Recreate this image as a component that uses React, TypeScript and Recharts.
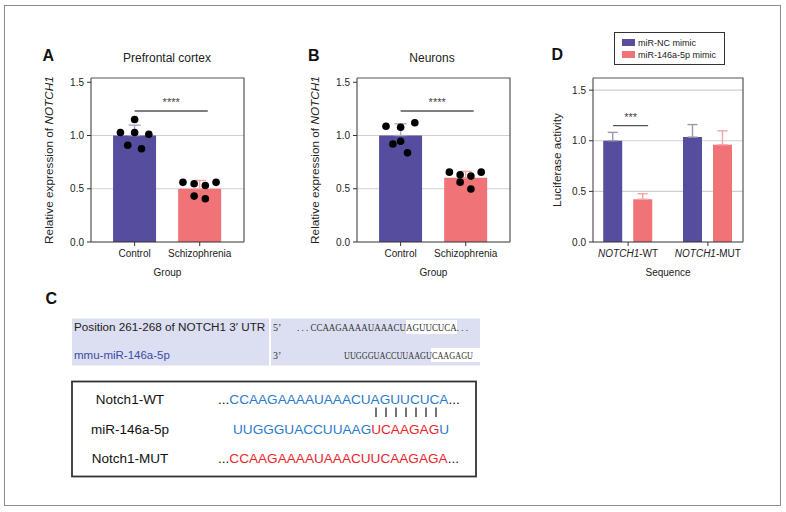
import React from "react";
import {
  ComposedChart,
  Bar,
  ErrorBar,
  Scatter,
  XAxis,
  YAxis,
  CartesianGrid,
  ReferenceLine,
  Legend,
} from "recharts";

const groups = ["Control", "Schizophrenia"];

// A: prefrontal cortex
const pfcMean = [1.0, 0.5];
const pfcSd = [0.097, 0.078];
const pfcDots = [
  [1.15, 1.028, 1.028, 1.012, 0.909, 0.875],
  [0.56, 0.547, 0.531, 0.56, 0.431, 0.406],
];
// horizontal spread of the dots, as a share of the bar width
const pfcJitter = [
  [0, -0.33, 0, 0.33, -0.16, 0.16],
  [-0.39, -0.13, 0.13, 0.38, -0.13, 0.13],
];

// B: neurons
const neuMean = [1.0, 0.603];
const neuSd = [0.11, 0.06];
const neuDots = [
  [1.087, 1.078, 1.12, 0.92, 0.946, 0.837],
  [0.656, 0.631, 0.619, 0.656, 0.562, 0.497],
];
const neuJitter = [
  [-0.34, 0, 0.33, -0.18, 0, 0.16],
  [-0.38, -0.13, 0.12, 0.36, -0.13, 0.12],
];

const exprTicks = [0, 0.5, 1, 1.5];
const exprGrid = [0.5, 1];
const exprMax = 1.54;
const exprX = [-0.67, 1.68];
const exprSigY = 1.23;

// D: luciferase
const sequences = ["NOTCH1-WT", "NOTCH1-MUT"];
const seriesNames = ["miR-NC mimic", "miR-146a-5p mimic"];
const ncMean = [1.0, 1.036];
const ncSd = [0.083, 0.124];
const mimicMean = [0.422, 0.96];
const mimicSd = [0.055, 0.138];
const lucTicks = [0, 0.5, 1, 1.5];
const lucGrid = [0.5, 1, 1.5];
const lucMax = 1.62;
const lucX = [-0.44, 1.44];
const lucSigY = 1.15;

const FONT = '"Liberation Sans", Arial, Helvetica, sans-serif';
const SERIF = '"Liberation Serif", "Times New Roman", serif';
const PURPLE = "#564d9e";
const PINK = "#f07377";
const AXIS = "#333";
const FRAME = "#555";
const GRID = "#d0d0d0";
const BAR_AB = 43;
const BAR_D = 19;
const GAP_D = 11;

// chart box layout
const CW = 260;
const CH = 290;
const M_TOP = 78;
const M_BOTTOM = 8;
const M_LEFT = 51;
const Y_W = 40;
const X_H = 40;
const LEFT_A = 0;
const LEFT_B = 266;
const LEFT_D = 502;
const RIGHT_AB = 16;
const RIGHT_D = 19;

const yTitle = (main: string, italic: string, dx: number) => (props: any) => {
  const { x, y, height } = props.viewBox;
  return (
    <text
      transform={`translate(${x + dx},${y + height / 2}) rotate(-90)`}
      textAnchor="middle"
      dominantBaseline="central"
      fontSize={11.8}
      fill="#222"
    >
      {main}
      {italic && <tspan fontStyle="italic">{italic}</tspan>}
    </text>
  );
};

const xTitle = (text: string) => (props: any) => {
  const { x, y, width } = props.viewBox;
  return (
    <text
      x={x + width / 2}
      y={y + 30}
      textAnchor="middle"
      dominantBaseline="central"
      fontSize={10}
      fill="#222"
    >
      {text}
    </text>
  );
};

const sigShape = (stars: string, before: number, after: number) => (p: any) => {
  const x1 = p.x1 - before;
  const x2 = p.x2 + after;
  return (
    <g>
      <line x1={x1} y1={p.y1} x2={x2} y2={p.y2} stroke="#555" strokeWidth={1.4} />
      <text
        x={(x1 + x2) / 2}
        y={p.y1 - 5}
        textAnchor="middle"
        fontSize={11}
        fill="#444"
      >
        {stars}
      </text>
    </g>
  );
};

const dotShape = (p: any) => (
  <circle cx={p.cx + p.payload.jit * BAR_AB} cy={p.cy} r={3.8} fill="#000" />
);

// top and right edges of a plot box, in page coordinates
function PlotFrame({ left, right }: { left: number; right: number }) {
  const x0 = left + M_LEFT + Y_W;
  const x1 = left + CW - right;
  const y0 = M_TOP;
  const y1 = CH - M_BOTTOM - X_H;
  return (
    <path
      d={`M${x0},${y0} H${x1} V${y1}`}
      fill="none"
      stroke={FRAME}
      strokeWidth={1.2}
    />
  );
}

function ExprChart({
  means,
  sds,
  dots,
  jitter,
  left,
}: {
  means: number[];
  sds: number[];
  dots: number[][];
  jitter: number[][];
  left: number;
}) {
  const rows = groups.map((g, i) => ({
    pos: i,
    [`m${i}`]: means[i],
    [`e${i}`]: [0, sds[i]],
  }));
  const pts = dots.flatMap((vals, i) =>
    vals.map((v, k) => ({ pos: i, v, jit: jitter[i][k] }))
  );
  return (
    <div style={{ position: "absolute", left, top: 0, width: CW, height: CH }}>
      <ComposedChart
        width={CW}
        height={CH}
        data={rows}
        margin={{ top: M_TOP, right: RIGHT_AB, bottom: M_BOTTOM, left: M_LEFT }}
      >
        <CartesianGrid
          vertical={false}
          horizontalValues={exprGrid}
          stroke={GRID}
          strokeWidth={1.2}
        />
        <XAxis
          type="number"
          dataKey="pos"
          domain={exprX}
          ticks={[0, 1]}
          allowDataOverflow
          height={X_H}
          tickSize={4}
          tickMargin={4}
          tickFormatter={(i: number) => groups[i]}
          tick={{ fontSize: 10, fill: "#222" }}
          axisLine={{ stroke: AXIS }}
          tickLine={{ stroke: AXIS }}
          label={{ content: xTitle("Group") }}
        />
        <YAxis
          domain={[0, exprMax]}
          ticks={exprTicks}
          allowDataOverflow
          width={Y_W}
          tickSize={4}
          tickMargin={3}
          tickFormatter={(v: number) => v.toFixed(1)}
          tick={{ fontSize: 10, fill: "#222" }}
          axisLine={{ stroke: AXIS }}
          tickLine={{ stroke: AXIS }}
          label={{ content: yTitle("Relative expression of ", "NOTCH1", -2) }}
        />
        <Bar dataKey="m0" stackId="s" fill={PURPLE} barSize={BAR_AB} isAnimationActive={false}>
          <ErrorBar dataKey="e0" width={6} stroke="#a9a6cc" strokeWidth={1.4} />
        </Bar>
        <Bar dataKey="m1" stackId="s" fill={PINK} barSize={BAR_AB} isAnimationActive={false}>
          <ErrorBar dataKey="e1" width={6} stroke="#f5a5a8" strokeWidth={1.4} />
        </Bar>
        <Scatter data={pts} dataKey="v" shape={dotShape} isAnimationActive={false} />
        <ReferenceLine
          segment={[
            { x: 0, y: exprSigY },
            { x: 1, y: exprSigY },
          ]}
          shape={sigShape("****", 0, 8)}
        />
      </ComposedChart>
    </div>
  );
}

const SeqTick = (p: any) => {
  const [gene, suffix] = sequences[p.payload.value].split("-");
  return (
    <text x={p.x} y={p.y} dy="0.71em" textAnchor="middle" fontSize={10} fill="#222">
      <tspan fontStyle="italic">{gene}</tspan>-{suffix}
    </text>
  );
};

const LegendBox = ({ payload }: any) => {
  const items = [...(payload || [])].sort(
    (a: any, b: any) => seriesNames.indexOf(a.value) - seriesNames.indexOf(b.value)
  );
  return (
    <div
      style={{
        position: "relative",
        width: 111,
        height: 33,
        boxSizing: "border-box",
        border: "1px solid #333",
        background: "#fff",
        fontSize: 9,
        color: "#222",
      }}
    >
      {items.map((it: any, i: number) => (
        <div
          key={it.value}
          style={{
            position: "absolute",
            left: 7,
            top: 4 + i * 12.3,
            height: 11,
            display: "flex",
            alignItems: "center",
            whiteSpace: "nowrap",
          }}
        >
          <span style={{ width: 13, height: 7, background: it.color, marginRight: 3 }} />
          <span>{it.value}</span>
        </div>
      ))}
    </div>
  );
};

function LucChart() {
  const rows = sequences.map((s, i) => ({
    pos: i,
    nc: ncMean[i],
    ncErr: [0, ncSd[i]],
    mimic: mimicMean[i],
    mimicErr: [0, mimicSd[i]],
  }));
  return (
    <div style={{ position: "absolute", left: LEFT_D, top: 0, width: CW, height: CH }}>
      <ComposedChart
        width={CW}
        height={CH}
        data={rows}
        barGap={GAP_D}
        margin={{ top: M_TOP, right: RIGHT_D, bottom: M_BOTTOM, left: M_LEFT }}
      >
        <CartesianGrid
          vertical={false}
          horizontalValues={lucGrid}
          stroke={GRID}
          strokeWidth={1.2}
        />
        <XAxis
          type="number"
          dataKey="pos"
          domain={lucX}
          ticks={[0, 1]}
          allowDataOverflow
          height={X_H}
          tickSize={4}
          tickMargin={4}
          tick={<SeqTick />}
          axisLine={{ stroke: AXIS }}
          tickLine={{ stroke: AXIS }}
          label={{ content: xTitle("Sequence") }}
        />
        <YAxis
          domain={[0, lucMax]}
          ticks={lucTicks}
          allowDataOverflow
          width={Y_W}
          tickSize={4}
          tickMargin={3}
          tickFormatter={(v: number) => v.toFixed(1)}
          tick={{ fontSize: 10, fill: "#222" }}
          axisLine={{ stroke: AXIS }}
          tickLine={{ stroke: AXIS }}
          label={{ content: yTitle("Luciferase activity", "", 3.7) }}
        />
        <Legend
          layout="vertical"
          verticalAlign="middle"
          align="center"
          content={<LegendBox />}
          wrapperStyle={{ left: 112, top: 32, width: 111, height: 33 }}
        />
        <Bar dataKey="nc" name={seriesNames[0]} fill={PURPLE} barSize={BAR_D} isAnimationActive={false}>
          <ErrorBar dataKey="ncErr" width={5} stroke="#9a99aa" strokeWidth={1.4} />
        </Bar>
        <Bar dataKey="mimic" name={seriesNames[1]} fill={PINK} barSize={BAR_D} isAnimationActive={false}>
          <ErrorBar dataKey="mimicErr" width={5} stroke="#f5a3a7" strokeWidth={1.4} />
        </Bar>
        <ReferenceLine
          segment={[
            { x: 0, y: lucSigY },
            { x: 0, y: lucSigY },
          ]}
          shape={sigShape("***", (BAR_D + GAP_D) / 2, (BAR_D + GAP_D) / 2 + 5)}
        />
      </ComposedChart>
    </div>
  );
}

function PanelC() {
  const pipes = [0, 1, 2, 3, 4, 5, 6];
  return (
    <g>
      <rect x={72} y={318.5} width={197} height={47} fill="#dcdff1" />
      <rect x={271} y={318.5} width={209} height={47} fill="#dcdff1" />
      <rect x={406} y={320} width={51} height={14} fill="#fff" />
      <rect x={431} y={348} width={49} height={14} fill="#fff" />
      <text x={74} y={331} fontSize={11.7} fill="#222">
        Position 261-268 of NOTCH1 3′ UTR
      </text>
      <text x={74} y={359} fontSize={11.5} fill="#3b4ba8">
        mmu-miR-146a-5p
      </text>
      <text x={273} y={331} fontSize={10} fontFamily={SERIF} fill="#333">
        5’
      </text>
      <text x={273} y={359} fontSize={10} fontFamily={SERIF} fill="#333">
        3’
      </text>
      <text
        x={297}
        y={331}
        fontSize={9.5}
        fontFamily={SERIF}
        fill="#333"
        textLength={171}
        lengthAdjust="spacingAndGlyphs"
      >
        . . . CCAAGAAAAUAAACUAGUUCUCA. . .
      </text>
      <text
        x={344}
        y={359}
        fontSize={9.5}
        fontFamily={SERIF}
        fill="#333"
        textLength={129}
        lengthAdjust="spacingAndGlyphs"
      >
        UUGGGUACCUUAAGUCAAGAGU
      </text>

      <rect x={72} y={381.5} width={404} height={95} fill="none" stroke="#333" strokeWidth={1.8} />
      <text x={130} y={404} fontSize={13.5} textAnchor="middle" fill="#111">
        Notch1-WT
      </text>
      <text x={130} y={434} fontSize={13.5} textAnchor="middle" fill="#111">
        miR-146a-5p
      </text>
      <text x={130} y={463} fontSize={13.5} textAnchor="middle" fill="#111">
        Notch1-MUT
      </text>
      <text x={218} y={404} fontSize={13.6} fill="#111">
        ...<tspan fill="#2b7bca">CCAAGAAAAUAAACUAGUUCUCA</tspan>...
      </text>
      {pipes.map((i) => (
        <line key={i} x1={376 + i * 10} y1={407.5} x2={376 + i * 10} y2={417} stroke="#444" strokeWidth={1.5} />
      ))}
      <text x={233} y={434} fontSize={13.6} fill="#2b7bca">
        UUGGGUACCUUAAG<tspan fill="#e8262c">UCAAGAG</tspan>U
      </text>
      <text x={218} y={463} fontSize={13.6} fill="#111">
        ...<tspan fill="#e8262c">CCAAGAAAAUAAACUUCAAGAGA</tspan>...
      </text>
    </g>
  );
}

export default function App() {
  return (
    <div
      style={{
        position: "absolute",
        left: 0,
        top: 0,
        width: 786,
        height: 512,
        background: "#fff",
        fontFamily: FONT,
      }}
    >
      <div
        style={{
          position: "absolute",
          left: 4,
          top: 5,
          width: 777,
          height: 501,
          boxSizing: "border-box",
          border: "1.5px solid #8c8c8c",
        }}
      />
      <ExprChart means={pfcMean} sds={pfcSd} dots={pfcDots} jitter={pfcJitter} left={LEFT_A} />
      <ExprChart means={neuMean} sds={neuSd} dots={neuDots} jitter={neuJitter} left={LEFT_B} />
      <LucChart />
      <svg
        width={786}
        height={512}
        style={{ position: "absolute", left: 0, top: 0, pointerEvents: "none" }}
        fontFamily={FONT}
      >
        <PlotFrame left={LEFT_A} right={RIGHT_AB} />
        <PlotFrame left={LEFT_B} right={RIGHT_AB} />
        <PlotFrame left={LEFT_D} right={RIGHT_D} />
        <text x={42.5} y={61} fontSize={16} fontWeight="bold" fill="#111">A</text>
        <text x={308} y={61} fontSize={16} fontWeight="bold" fill="#111">B</text>
        <text x={551.5} y={59.5} fontSize={16} fontWeight="bold" fill="#111">D</text>
        <text x={45.5} y={303.5} fontSize={16} fontWeight="bold" fill="#111">C</text>
        <text x={167} y={61.8} fontSize={12} textAnchor="middle" fill="#222">
          Prefrontal cortex
        </text>
        <text x={432} y={61.8} fontSize={12} textAnchor="middle" fill="#222">
          Neurons
        </text>
        <PanelC />
      </svg>
    </div>
  );
}
